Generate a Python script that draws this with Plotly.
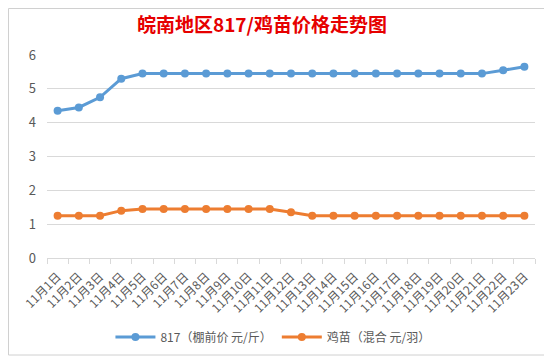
import plotly.graph_objects as go

dates = [f"11月{d}日" for d in range(1, 24)]
price_817 = [4.35, 4.45, 4.75, 5.3, 5.45, 5.45, 5.45, 5.45, 5.45, 5.45, 5.45, 5.45,
             5.45, 5.45, 5.45, 5.45, 5.45, 5.45, 5.45, 5.45, 5.45, 5.55, 5.65]
price_chick = [1.25, 1.25, 1.25, 1.4, 1.45, 1.45, 1.45, 1.45, 1.45, 1.45, 1.45, 1.35,
               1.25, 1.25, 1.25, 1.25, 1.25, 1.25, 1.25, 1.25, 1.25, 1.25, 1.25]
name_817 = "817（棚前价 元/斤）"
name_chick = "鸡苗（混合 元/羽）"
title = "皖南地区817/鸡苗价格走势图"

font_family = "Noto Sans CJK SC, Microsoft YaHei, sans-serif"

# page body adds an 8px offset; layout below is expressed in figure coords
L, T, PW, PH = 39, 47, 488, 203

fig = go.Figure()
fig.add_trace(go.Scatter(x=dates, y=price_817, mode="lines+markers", name=name_817,
                         line=dict(color="#5B9BD5", width=3),
                         marker=dict(color="#5B9BD5", size=8)))
fig.add_trace(go.Scatter(x=dates, y=price_chick, mode="lines+markers", name=name_chick,
                         line=dict(color="#ED7D31", width=3),
                         marker=dict(color="#ED7D31", size=8)))

fig.update_layout(
    width=552, height=362,
    paper_bgcolor="white", plot_bgcolor="white",
    margin=dict(l=L, r=552 - L - PW, t=T, b=362 - T - PH),
    font=dict(family=font_family, color="#595959", size=12),
    title=dict(text=f"<b>{title}</b>", x=0.46, xanchor="center", y=1 - 17 / 362, yanchor="middle",
               font=dict(family=font_family, size=19, color="#E60000")),
    showlegend=True,
    legend=dict(orientation="h", x=0.463, xanchor="center", y=-0.389, yanchor="middle",
                font=dict(size=12, color="#595959"), itemwidth=40),
    xaxis=dict(type="category", range=[-0.5, len(dates) - 0.5], tickangle=-45,
               showgrid=False, showline=True, automargin=False,
               linecolor="#D9D9D9", linewidth=1, ticks="outside", tickson="boundaries",
               ticklen=5, tickcolor="#D9D9D9", tickfont=dict(size=12, color="#595959"),
               ticklabelstandoff=6),
    yaxis=dict(range=[0, 6], dtick=1, showgrid=True, gridcolor="#D9D9D9", gridwidth=1,
               automargin=False,
               zeroline=False, showline=False, ticks="", tickfont=dict(size=13, color="#595959"),
               ticklabelstandoff=10),
    shapes=[dict(type="rect", xref="paper", yref="paper",
                 x0=(0.5 - L) / PW, x1=(537 - L) / PW,
                 y0=-(347 - (T + PH)) / PH, y1=(T + PH - 0.5) / PH,
                 line=dict(color="#D0D0D0", width=1),
                 fillcolor="rgba(0,0,0,0)", layer="below")],
)

fig.write_html("out.html")
